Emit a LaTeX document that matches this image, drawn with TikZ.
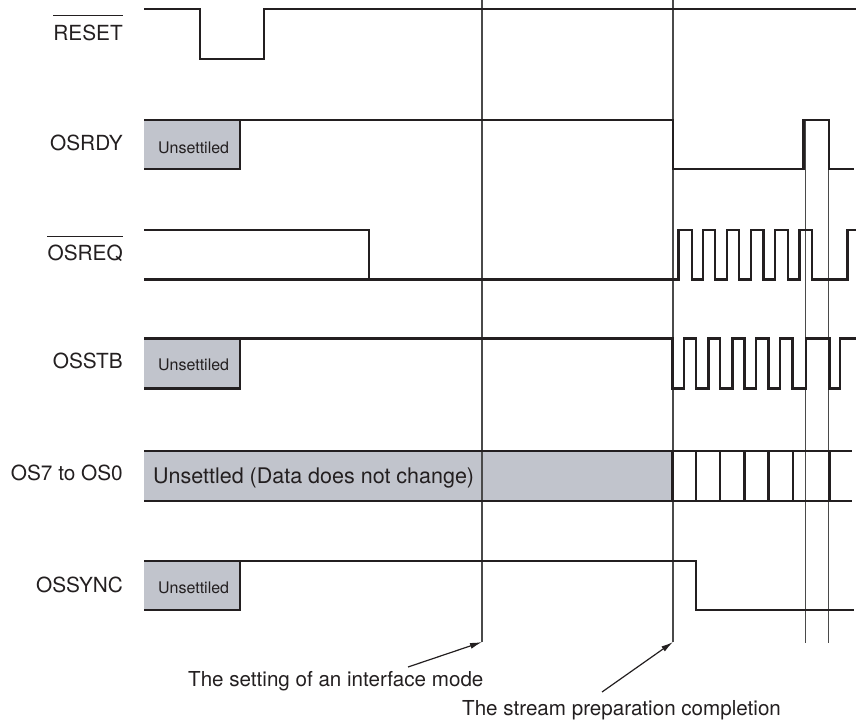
\documentclass[tikz,border=0pt]{standalone}
\usepackage{fontspec}
\setmainfont{TeX Gyre Heros}
\usetikzlibrary{arrows.meta}
\definecolor{sigc}{HTML}{231F20}
\definecolor{markc}{HTML}{4A4A4A}
\definecolor{fillc}{HTML}{C1C4CC}
\definecolor{textc}{HTML}{231F20}
\begin{document}
\begin{tikzpicture}[x=1pt,y=-1pt,
  sig/.style={line width=2.4pt, draw=sigc, line join=miter},
  mk/.style={line width=1.2pt, draw=markc},
  lbl/.style={anchor=base east, font=\fontsize{20.8}{24}\selectfont, text=textc, inner sep=0pt},
  unslbl/.style={anchor=base west, font=\fontsize{16}{19}\selectfont, text=textc, inner sep=0pt},
  datalbl/.style={anchor=base west, font=\fontsize{21.5}{25}\selectfont, text=textc, inner sep=0pt},
  note/.style={anchor=base west, font=\fontsize{20.6}{24}\selectfont, text=textc, inner sep=0pt},
  ovl/.style={line width=1.3pt, draw=textc},
  arr/.style={line width=1.2pt, draw=sigc, -{Latex[length=12pt,width=6pt]}}]
\useasboundingbox (0,0) rectangle (856,723);

% grey fills
\fill[fillc] (144,120) rectangle (240,169);
\fill[fillc] (144,338.3) rectangle (240,388.3);
\fill[fillc] (144,450.7) rectangle (672.5,501);
\fill[fillc] (144,561) rectangle (240,610);

% marker lines
\coordinate (m1t) at (482,0);
\coordinate (m1b) at (482,642);
\coordinate (m2t) at (673,0);
\coordinate (m2b) at (673,642);
\coordinate (m3t) at (805.7,120);
\coordinate (m3b) at (805.7,643);
\coordinate (m4t) at (828.5,120);
\coordinate (m4b) at (828.5,643);
\draw[mk] (m1t) -- (m1b);
\draw[mk] (m2t) -- (m2b);
\draw[mk] (m3t) -- (m3b);
\draw[mk] (m4t) -- (m4b);

% labels
\node[lbl] (lreset) at (123,40) {RESET};
\draw[ovl] ([yshift=9pt]lreset.north west) -- ([yshift=9pt]lreset.north east);
\node[lbl] (losrdy) at (123,150.7) {OSRDY};
\node[lbl] (losreq) at (123,260) {OSREQ};
\draw[ovl] ([yshift=8pt]losreq.north west) -- ([yshift=8pt]losreq.north east);
\node[lbl] (losstb) at (123,368) {OSSTB};
\node[lbl] (losdat) at (123,480.7) {OS7 to OS0};
\node[lbl] (lossync) at (123,592) {OSSYNC};

\node[unslbl] (u1) at (158,153.3) {Unsettiled};
\node[unslbl] (u2) at (158,370.5) {Unsettiled};
\node[unslbl] (u3) at (158,593) {Unsettiled};
\node[datalbl] (u4) at (153,483.3) {Unsettled (Data does not change)};

% RESET
\draw[sig] (144,9) -- (200,9) -- (200,59) -- (264,59) -- (264,9) -- (856,9);
% OSRDY
\draw[sig] (144,169) -- (240,169) -- (240,120);
\draw[sig] (144,120) -- (673,120) -- (673,169) -- (803.5,169) -- (803.5,120) -- (829,120) -- (829,169) -- (854,169);
% OSREQ
\draw[sig] (144,230) -- (369,230) -- (369,279.5);
\draw[sig] (144,279.5) -- (678.5,279.5) -- (678.5,230) -- (691.7,230) -- (691.7,279.5)
  -- (702.7,279.5) -- (702.7,230) -- (715,230) -- (715,279.5)
  -- (726.7,279.5) -- (726.7,230) -- (739,230) -- (739,279.5)
  -- (750.7,279.5) -- (750.7,230) -- (763.3,230) -- (763.3,279.5)
  -- (775,279.5) -- (775,230) -- (787.7,230) -- (787.7,279.5)
  -- (799.3,279.5) -- (799.3,230) -- (811.7,230) -- (811.7,279.5)
  -- (847.3,279.5) -- (847.3,230) -- (856,230);
% OSSTB
\draw[sig] (144,388.3) -- (240,388.3) -- (240,338.3);
\draw[sig] (144,338.3) -- (672.5,338.3) -- (672.5,388.3) -- (684,388.3) -- (684,338.3)
  -- (696,338.3) -- (696,388.3) -- (708.3,388.3) -- (708.3,338.3)
  -- (720,338.3) -- (720,388.3) -- (732.3,388.3) -- (732.3,338.3)
  -- (744.3,338.3) -- (744.3,388.3) -- (756,388.3) -- (756,338.3)
  -- (768.3,338.3) -- (768.3,388.3) -- (780,388.3) -- (780,338.3)
  -- (792.3,338.3) -- (792.3,388.3) -- (805.7,388.3) -- (805.7,338.3)
  -- (829.3,338.3) -- (829.3,388.3) -- (840,388.3) -- (840,338.3) -- (856,338.3);
% OS7 to OS0
\draw[sig] (144,450.7) -- (852,450.7);
\draw[sig] (144,501) -- (852,501);
\foreach \xx in {672.5,696,720,744.3,768.3,792.7,829.3}
  \draw[sig] (\xx,450.7) -- (\xx,501);
% OSSYNC
\draw[sig] (144,610) -- (240,610) -- (240,561);
\draw[sig] (144,561) -- (696,561) -- (696,610) -- (854,610);

% notes
\node[note] (n1) at (188,686) {The setting of an interface mode};
\node[note] (n2) at (462,715) {The stream preparation completion};
\coordinate (a1) at (408,667);
\coordinate (a2) at (602,692);
\draw[arr] (a1) -- (m1b);
\draw[arr] (a2) -- (m2b);
\end{tikzpicture}
\end{document}
